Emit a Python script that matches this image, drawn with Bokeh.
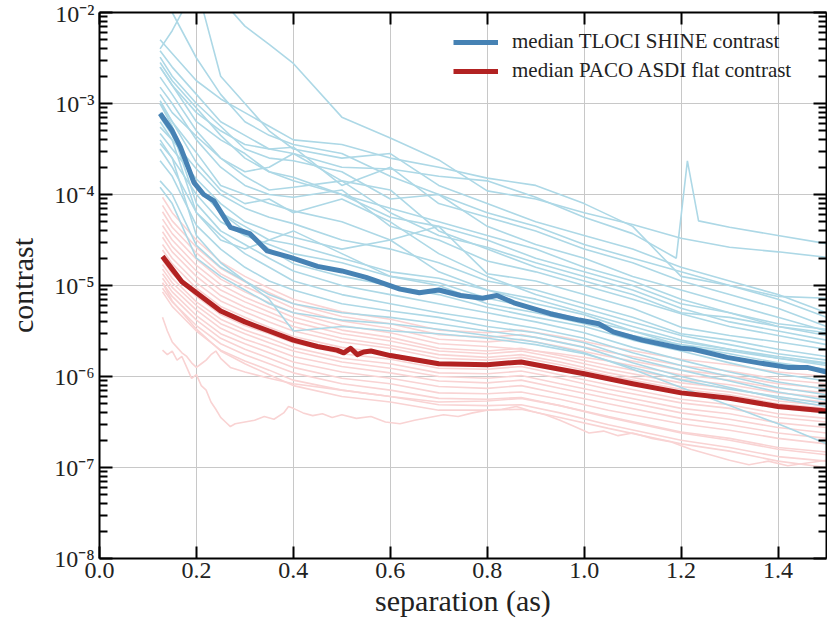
from bokeh.plotting import figure
from bokeh.models import LinearAxis, LogAxis, FixedTicker, CustomJSTickFormatter, Legend
from bokeh.embed import file_html
from bokeh.resources import INLINE

# ---------------- data (values are log10(contrast)) -------------
sep_tloci = [0.125, 0.15, 0.2, 0.25, 0.3, 0.35, 0.4, 0.5, 0.6, 0.7, 0.8, 0.9, 1.0, 1.1, 1.2, 1.3, 1.4, 1.5]
sep_tloci_02 = [0.125, 0.15, 0.2, 0.25, 0.3, 0.35, 0.4, 0.5, 0.6, 0.7, 0.8, 0.9, 1.0, 1.1, 1.19, 1.213, 1.236, 1.3, 1.4, 1.5]

tloci_01 = [-1.5, -1.55, -1.6, -1.85, -2.15, -2.35, -2.56, -3.15, -3.38, -3.62, -3.96, -4.05, -4.2, -4.33, -4.48, -4.58, -4.63, -4.69]
tloci_02 = [-2.6, -2.8, -3.1, -3.3, -3.45, -3.5, -3.55, -3.7, -3.72, -3.8, -3.85, -4.03, -4.25, -4.43, -4.7, -3.63, -4.29, -4.36, -4.45, -4.54]
tloci_03 = [-2.3, -2.45, -2.75, -2.95, -3.1, -3.25, -3.4, -3.45, -3.6, -3.7, -3.82, -3.9, -4.1, -4.35, -4.9, -5.0, -5.12, -5.14]
tloci_04 = [-2.4, -2.2, -1.7, -2.7, -3.0, -3.3, -3.5, -3.6, -3.55, -3.9, -4.1, -4.3, -4.45, -4.6, -4.8, -4.95, -5.1, -5.3]
tloci_05 = [-1.8, -2.0, -2.5, -2.9, -3.2, -3.35, -3.45, -3.55, -3.8, -4.0, -4.2, -4.35, -4.55, -4.7, -4.85, -5.0, -5.15, -5.35]
tloci_06 = [-2.42, -2.6, -2.9, -3.2, -3.35, -3.5, -3.48, -3.9, -3.7, -4.1, -4.25, -4.4, -4.6, -4.75, -4.95, -5.1, -5.25, -5.45]
tloci_07 = [-2.49, -2.7, -3.0, -3.25, -3.5, -3.6, -3.63, -3.75, -4.05, -4.0, -4.35, -4.55, -4.7, -4.9, -5.05, -5.2, -5.35, -5.5]
tloci_08 = [-2.6, -2.8, -3.2, -3.4, -3.55, -3.75, -3.81, -4.0, -4.15, -4.3, -4.45, -4.6, -4.8, -4.95, -5.15, -5.3, -5.45, -5.55]
tloci_09 = [-2.71, -2.9, -3.3, -3.6, -3.8, -3.95, -3.92, -3.85, -4.2, -4.45, -4.58, -4.75, -4.9, -5.05, -5.25, -5.4, -5.5, -5.6]
tloci_10 = [-2.82, -3.0, -3.4, -3.7, -3.9, -4.0, -4.03, -3.95, -4.35, -4.5, -4.73, -4.85, -5.0, -5.15, -5.31, -5.45, -5.55, -5.65]
tloci_11 = [-2.97, -3.2, -3.54, -3.9, -4.0, -4.1, -4.18, -4.3, -4.5, -4.35, -4.87, -4.95, -5.1, -5.25, -5.46, -5.55, -5.62, -5.7]
tloci_12 = [-3.26, -3.4, -3.72, -4.0, -4.15, -4.25, -4.32, -4.5, -4.6, -4.75, -4.95, -5.05, -5.2, -5.35, -5.53, -5.6, -5.7, -5.78]
tloci_13 = [-3.33, -3.5, -3.83, -4.1, -4.3, -4.4, -4.47, -4.6, -4.5, -4.85, -5.05, -5.15, -5.3, -5.45, -5.6, -5.7, -5.78, -5.85]
tloci_14 = [-3.44, -3.6, -4.0, -4.3, -4.45, -4.55, -4.65, -4.75, -4.9, -4.97, -5.14, -5.25, -5.38, -5.5, -5.66, -5.75, -5.85, -5.92]
tloci_15 = [-3.0, -3.25, -3.9, -4.2, -4.4, -4.6, -4.76, -4.9, -5.0, -5.1, -5.24, -5.35, -5.45, -5.6, -5.72, -5.85, -5.97, -6.05]
tloci_16 = [-3.1, -3.3, -4.1, -4.4, -4.55, -4.7, -4.84, -5.0, -5.1, -5.2, -5.3, -5.4, -5.52, -5.68, -5.82, -5.95, -6.06, -6.14]
tloci_17 = [-3.2, -3.4, -4.2, -4.45, -4.65, -4.8, -4.95, -5.1, -5.2, -5.3, -5.38, -5.47, -5.58, -5.74, -5.88, -6.0, -6.12, -6.2]
tloci_18 = [-3.63, -3.8, -4.34, -4.6, -4.8, -4.95, -5.05, -5.2, -5.28, -5.35, -5.45, -5.52, -5.63, -5.8, -5.93, -6.05, -6.17, -6.26]
tloci_19 = [-3.85, -4.0, -4.56, -4.8, -4.95, -5.1, -5.2, -5.3, -5.35, -5.42, -5.5, -5.57, -5.68, -5.85, -6.0, -6.12, -6.24, -6.33]
tloci_20 = [-3.92, -4.1, -4.7, -4.9, -5.05, -5.2, -5.3, -5.38, -5.42, -5.48, -5.55, -5.62, -5.74, -5.92, -6.12, -6.32, -6.52, -6.74]
tloci_21 = [-3.4, -3.6, -4.45, -4.75, -4.95, -5.15, -5.5, -5.45, -5.5, -5.53, -5.58, -5.65, -5.75, -5.9, -6.04, -6.14, -6.22, -6.3]
tloci_22 = [-2.9, -3.1, -3.36, -3.6, -3.75, -3.7, -3.55, -3.85, -3.95, -4.4, -4.6, -4.8, -4.95, -5.1, -5.3, -5.35, -5.45, -5.52]
tloci_23 = [-3.5, -3.7, -4.2, -4.5, -4.6, -4.5, -4.4, -4.65, -4.9, -5.0, -5.2, -5.3, -5.42, -5.55, -5.65, -5.72, -5.8, -5.88]
tloci_24 = [-3.0, -3.2, -3.65, -3.95, -4.1, -4.05, -4.2, -4.05, -4.3, -4.65, -4.9, -5.1, -5.25, -5.4, -5.55, -5.65, -5.75, -5.82]
tloci_25 = [-2.55, -2.75, -3.05, -3.35, -3.6, -3.75, -3.85, -4.0, -4.25, -4.35, -4.5, -4.7, -4.85, -5.0, -5.2, -5.3, -5.42, -5.48]
tloci_26 = [-3.15, -3.35, -3.9, -4.2, -4.35, -4.5, -4.55, -4.7, -4.85, -4.92, -5.05, -5.2, -5.32, -5.5, -5.62, -5.7, -5.8, -5.86]

sep_paco = [0.13, 0.15, 0.2, 0.25, 0.3, 0.35, 0.4, 0.5, 0.6, 0.7, 0.8, 0.87, 0.95, 1.05, 1.2, 1.3, 1.4, 1.5]
paco_01 = [-4.03, -4.2, -4.5, -4.74, -4.9, -5.03, -5.15, -5.29, -5.37, -5.49, -5.52, -5.49, -5.56, -5.67, -5.81, -5.87, -5.95, -6.0]
paco_02 = [-4.12, -4.29, -4.58, -4.81, -4.96, -5.08, -5.2, -5.34, -5.42, -5.54, -5.57, -5.54, -5.62, -5.73, -5.88, -5.94, -6.03, -6.08]
paco_03 = [-4.19, -4.36, -4.64, -4.87, -5.01, -5.13, -5.25, -5.39, -5.47, -5.59, -5.62, -5.59, -5.67, -5.78, -5.93, -5.99, -6.08, -6.13]
paco_04 = [-4.27, -4.43, -4.71, -4.93, -5.07, -5.19, -5.3, -5.44, -5.52, -5.64, -5.67, -5.7, -5.75, -5.83, -5.98, -6.04, -6.13, -6.18]
paco_05 = [-4.34, -4.5, -4.78, -4.99, -5.13, -5.24, -5.35, -5.49, -5.57, -5.69, -5.72, -5.69, -5.77, -5.88, -6.03, -6.09, -6.18, -6.23]
paco_06 = [-4.41, -4.57, -4.84, -5.05, -5.18, -5.29, -5.4, -5.53, -5.61, -5.72, -5.75, -5.72, -5.8, -5.92, -6.07, -6.13, -6.23, -6.28]
paco_07 = [-4.47, -4.63, -4.9, -5.11, -5.24, -5.34, -5.45, -5.58, -5.66, -5.76, -5.79, -5.76, -5.84, -5.96, -6.11, -6.17, -6.27, -6.32]
paco_08 = [-4.55, -4.7, -4.97, -5.17, -5.29, -5.4, -5.5, -5.62, -5.69, -5.8, -5.82, -5.79, -5.87, -5.99, -6.14, -6.2, -6.3, -6.35]
paco_09 = [-4.61, -4.76, -5.03, -5.23, -5.35, -5.46, -5.56, -5.68, -5.75, -5.85, -5.87, -5.84, -5.92, -6.04, -6.19, -6.25, -6.35, -6.4]
paco_10 = [-4.72, -4.87, -5.12, -5.32, -5.44, -5.53, -5.63, -5.75, -5.81, -5.91, -5.92, -5.89, -5.98, -6.09, -6.25, -6.31, -6.41, -6.46]
paco_11 = [-4.77, -4.92, -5.18, -5.37, -5.49, -5.58, -5.68, -5.8, -5.86, -5.96, -5.97, -5.94, -6.02, -6.14, -6.29, -6.35, -6.45, -6.5]
paco_12 = [-4.82, -4.97, -5.22, -5.42, -5.53, -5.63, -5.72, -5.84, -5.91, -6.0, -6.02, -5.99, -6.08, -6.19, -6.35, -6.41, -6.51, -6.56]
paco_13 = [-4.87, -5.02, -5.27, -5.47, -5.59, -5.68, -5.78, -5.89, -5.96, -6.05, -6.07, -6.04, -6.13, -6.24, -6.4, -6.47, -6.56, -6.62]
paco_14 = [-4.92, -5.07, -5.33, -5.53, -5.64, -5.74, -5.84, -5.95, -6.02, -6.11, -6.13, -6.1, -6.19, -6.3, -6.46, -6.53, -6.62, -6.68]
paco_15 = [-4.97, -5.12, -5.38, -5.58, -5.7, -5.8, -5.9, -6.02, -6.08, -6.18, -6.19, -6.17, -6.25, -6.37, -6.52, -6.59, -6.68, -6.74]
paco_16 = [-5.03, -5.18, -5.44, -5.64, -5.76, -5.86, -5.96, -6.08, -6.15, -6.24, -6.25, -6.23, -6.32, -6.44, -6.61, -6.68, -6.78, -6.83]
paco_17 = [-5.07, -5.23, -5.5, -5.71, -5.83, -5.93, -6.04, -6.15, -6.22, -6.31, -6.32, -6.31, -6.4, -6.53, -6.7, -6.78, -6.88, -6.93]
paco_18 = [-4.97, -5.17, -5.48, -5.72, -5.86, -5.98, -6.1, -6.22, -6.28, -6.37, -6.37, -6.36, -6.45, -6.57, -6.74, -6.82, -6.93, -7.0]

sep_paco_19 = [0.13, 0.14, 0.15, 0.16, 0.17, 0.18, 0.19, 0.2, 0.21, 0.22, 0.23, 0.24, 0.25, 0.26, 0.27, 0.28,
               0.3, 0.32, 0.34, 0.36, 0.38, 0.39, 0.4, 0.42, 0.44, 0.46, 0.48, 0.5, 0.53, 0.56, 0.59, 0.62,
               0.65, 0.68, 0.71, 0.74, 0.77, 0.8, 0.83, 0.86, 0.89, 0.92, 0.95, 0.98, 1.01, 1.04, 1.07, 1.1,
               1.14, 1.18, 1.22, 1.26, 1.3, 1.34, 1.38, 1.42, 1.46, 1.5]
paco_19 = [-5.71, -5.76, -5.72, -5.82, -5.78, -5.9, -6.02, -5.98, -6.1, -6.15, -6.28, -6.36, -6.45, -6.5, -6.55, -6.52,
           -6.5, -6.48, -6.44, -6.47, -6.4, -6.33, -6.35, -6.4, -6.43, -6.41, -6.45, -6.42, -6.46, -6.44, -6.5, -6.52,
           -6.48, -6.45, -6.42, -6.44, -6.4, -6.37, -6.36, -6.33, -6.38, -6.42, -6.48, -6.55, -6.62, -6.6, -6.65, -6.62,
           -6.68, -6.72, -6.8, -6.86, -6.92, -6.97, -6.93, -6.98, -6.95, -6.92]
sep_paco_20 = [0.13, 0.14, 0.15, 0.16, 0.17, 0.18, 0.19, 0.2, 0.21, 0.22, 0.23, 0.24, 0.25, 0.27,
               0.3, 0.35, 0.4, 0.5, 0.6, 0.7, 0.8, 0.87, 0.95, 1.05, 1.2, 1.3, 1.4, 1.5]
paco_20 = [-5.35, -5.5, -5.62, -5.68, -5.74, -5.78, -5.85, -5.9, -5.86, -5.82, -5.76, -5.72, -5.8, -5.9,
           -5.95, -6.02, -6.08, -6.15, -6.22, -6.28, -6.27, -6.24, -6.32, -6.45, -6.62, -6.7, -6.8, -6.86]

sep_median_tloci = [0.125, 0.15, 0.167, 0.195, 0.215, 0.236, 0.27, 0.31, 0.346, 0.394, 0.45, 0.5, 0.55, 0.62,
                    0.66, 0.7, 0.745, 0.79, 0.82, 0.855, 0.93, 0.99, 1.03, 1.06, 1.12, 1.2, 1.225, 1.295,
                    1.36, 1.42, 1.46, 1.5]
median_tloci = [-3.11, -3.3, -3.48, -3.87, -4.0, -4.07, -4.36, -4.43, -4.62, -4.69, -4.79, -4.84, -4.91, -5.04,
                -5.08, -5.05, -5.11, -5.14, -5.11, -5.19, -5.31, -5.38, -5.42, -5.51, -5.6, -5.69, -5.7, -5.79,
                -5.85, -5.9, -5.9, -5.95]
sep_median_paco = [0.13, 0.15, 0.17, 0.2, 0.25, 0.3, 0.35, 0.4, 0.45, 0.49, 0.504, 0.518, 0.532, 0.545, 0.56,
                   0.6, 0.7, 0.8, 0.87, 0.95, 1.0, 1.1, 1.2, 1.3, 1.4, 1.5]
median_paco = [-4.68, -4.82, -4.96, -5.08, -5.28, -5.4, -5.5, -5.6, -5.67, -5.71, -5.74, -5.69, -5.76, -5.73, -5.72,
               -5.77, -5.86, -5.87, -5.84, -5.92, -5.97, -6.08, -6.18, -6.24, -6.33, -6.38]

x_ticks = [0.0, 0.2, 0.4, 0.6, 0.8, 1.0, 1.2, 1.4]
y_decades = [-8, -7, -6, -5, -4, -3, -2]

legend_labels = ["median TLOCI SHINE contrast", "median PACO ASDI flat contrast"]

# ---------------- figure ----------------
FONT = "Liberation Serif"
LIGHT_BLUE = "#add8e6"
LIGHT_PINK = "#f9d3d3"


def lin(logs):
    return [10.0 ** v for v in logs]


p = figure(width=827, height=623, x_range=(0, 1.5), y_range=(1e-8, 1e-2),
           y_axis_type="log", output_backend="svg", toolbar_location=None,
           min_border_left=99, min_border_right=1, min_border_top=12, min_border_bottom=65)
p.outline_line_color = None
p.background_fill_color = "white"
p.border_fill_color = "white"

tloci_curves = [(sep_tloci, tloci_01), (sep_tloci_02, tloci_02), (sep_tloci, tloci_03), (sep_tloci, tloci_04),
                (sep_tloci, tloci_05), (sep_tloci, tloci_06), (sep_tloci, tloci_07), (sep_tloci, tloci_08),
                (sep_tloci, tloci_09), (sep_tloci, tloci_10), (sep_tloci, tloci_11), (sep_tloci, tloci_12),
                (sep_tloci, tloci_13), (sep_tloci, tloci_14), (sep_tloci, tloci_15), (sep_tloci, tloci_16),
                (sep_tloci, tloci_17), (sep_tloci, tloci_18), (sep_tloci, tloci_19), (sep_tloci, tloci_20),
                (sep_tloci, tloci_21), (sep_tloci, tloci_22), (sep_tloci, tloci_23), (sep_tloci, tloci_24),
                (sep_tloci, tloci_25), (sep_tloci, tloci_26)]
paco_curves = [(sep_paco, paco_01), (sep_paco, paco_02), (sep_paco, paco_03), (sep_paco, paco_04),
               (sep_paco, paco_05), (sep_paco, paco_06), (sep_paco, paco_07), (sep_paco, paco_08),
               (sep_paco, paco_09), (sep_paco, paco_10), (sep_paco, paco_11), (sep_paco, paco_12),
               (sep_paco, paco_13), (sep_paco, paco_14), (sep_paco, paco_15), (sep_paco, paco_16),
               (sep_paco, paco_17), (sep_paco, paco_18), (sep_paco_19, paco_19), (sep_paco_20, paco_20)]

n = max(len(tloci_curves), len(paco_curves))
for i in range(n):
    if i < len(paco_curves):
        xs, ys = paco_curves[i]
        p.line(xs, lin(ys), line_color=LIGHT_PINK, line_width=1.6)
    if i < len(tloci_curves):
        xs, ys = tloci_curves[i]
        p.line(xs, lin(ys), line_color=LIGHT_BLUE, line_width=1.6)

r_blue = p.line(sep_median_tloci, lin(median_tloci), line_color="#4682b4", line_width=5, line_join="round")
r_red = p.line(sep_median_paco, lin(median_paco), line_color="#b22222", line_width=5, line_join="round")

# ticks / axes
xt = FixedTicker(ticks=x_ticks, minor_ticks=[])
y_major = [10.0 ** e for e in y_decades]
y_minor = [m * 10.0 ** e for e in y_decades[:-1] for m in range(2, 10)]
yt = FixedTicker(ticks=y_major, minor_ticks=y_minor)

sup_fmt = CustomJSTickFormatter(code="""
const sup = {"-":"\u207b","0":"\u2070","1":"\u00b9","2":"\u00b2","3":"\u00b3","4":"\u2074",
             "5":"\u2075","6":"\u2076","7":"\u2077","8":"\u2078","9":"\u2079"};
const e = Math.round(Math.log10(tick));
return "10" + String(e).split("").map(c => sup[c]).join("");
""")
x_fmt = CustomJSTickFormatter(code="return tick.toFixed(1);")
empty_fmt = CustomJSTickFormatter(code="return '';")


def style_axis(ax):
    ax.axis_line_color = "black"
    ax.axis_line_width = 2
    ax.major_tick_line_color = "black"
    ax.major_tick_line_width = 2
    ax.minor_tick_line_color = "black"
    ax.minor_tick_line_width = 2
    ax.major_tick_out = 0
    ax.minor_tick_out = 0
    ax.major_label_text_font = FONT
    ax.major_label_text_font_size = "24px"
    ax.major_label_text_color = "#222222"
    ax.axis_label_text_font = FONT
    ax.axis_label_text_font_size = "30px"
    ax.axis_label_text_font_style = "normal"
    ax.axis_label_text_color = "#222222"


xa = p.xaxis[0]
xa.ticker = xt
xa.formatter = x_fmt
style_axis(xa)
xa.major_tick_in = 12
xa.minor_tick_in = 0
xa.major_label_standoff = 4
xa.axis_label = "separation (as)"
xa.axis_label_standoff = 3

ya = p.yaxis[0]
ya.ticker = yt
ya.formatter = sup_fmt
style_axis(ya)
ya.major_tick_in = 13
ya.minor_tick_in = 8
ya.major_label_standoff = 5
ya.axis_label = "contrast"
ya.axis_label_standoff = 12

top = LinearAxis(ticker=xt, formatter=empty_fmt)
style_axis(top)
top.major_tick_in = 12
top.minor_tick_in = 0
top.major_label_standoff = 0
top.major_label_text_font_size = "1px"
p.add_layout(top, "above")

right = LogAxis(ticker=yt, formatter=empty_fmt)
style_axis(right)
right.major_tick_in = 13
right.minor_tick_in = 8
right.major_label_standoff = 0
right.major_label_text_font_size = "1px"
p.add_layout(right, "right")

p.xgrid.ticker = xt
p.ygrid.ticker = FixedTicker(ticks=y_major, minor_ticks=[])
p.xgrid.grid_line_color = "#c8c8c8"
p.ygrid.grid_line_color = "#c8c8c8"
p.xgrid.grid_line_width = 1
p.ygrid.grid_line_width = 1

legend = Legend(items=[(legend_labels[0], [r_blue]), (legend_labels[1], [r_red])],
                location=(354, 475), orientation="vertical")
legend.padding = 0
legend.margin = 0
legend.spacing = 4
legend.glyph_height = 20
legend.label_height = 20
legend.glyph_width = 45
legend.label_standoff = 14
legend.label_text_font = FONT
legend.label_text_font_size = "21px"
legend.label_text_color = "#222222"
legend.background_fill_alpha = 0
legend.border_line_alpha = 0
p.add_layout(legend)

open("out.html", "w").write(file_html(p, INLINE))
